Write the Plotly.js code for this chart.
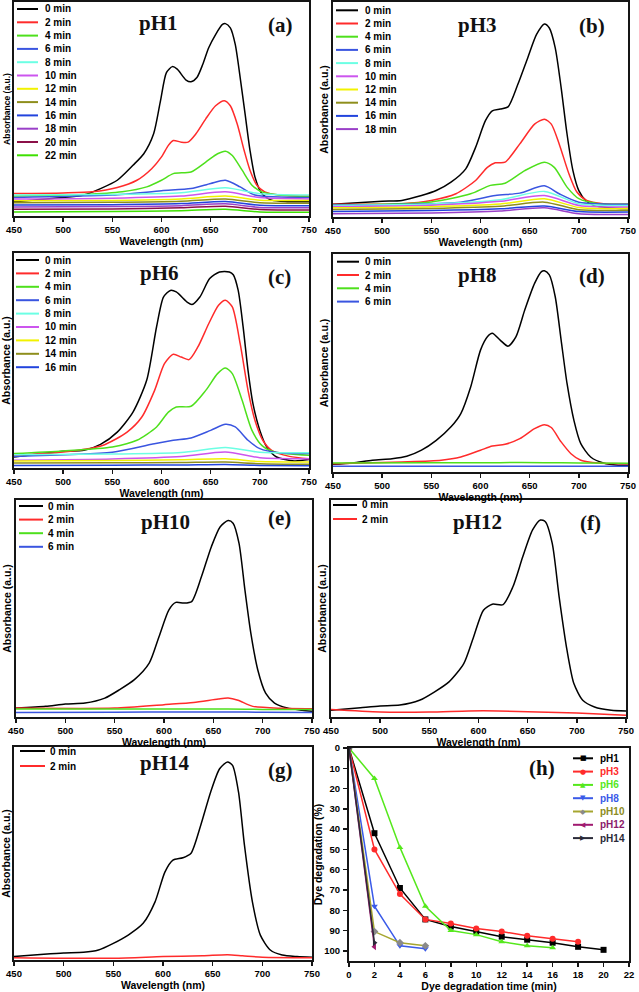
<!DOCTYPE html>
<html><head><meta charset="utf-8">
<script src="https://cdn.plot.ly/plotly-3.0.1.min.js"></script>
<style>html,body{margin:0;padding:0;background:#fff}#chart{width:639px;height:992px}</style>
</head><body><div id="chart"></div>
<script>
// ---------------- DATA ----------------
const LOW_WL = [450, 550, 620, 665, 700, 750];

// (a) pH1
const A_TIMES = [0,2,4,6,8,10,12,14,16,18,20,22];
const A0_WL = [450,500,521,538,555,571,582,592,599,605,611,616,625,630,636,642,648,655,662,665,670,675,680,685,690,695,702,712,728,750];
const A0 = [6.7,8.7,9.8,12.8,16.7,23.7,29.1,38.4,53.9,67,69.8,68.6,63.5,62.7,64.7,70.9,78.6,84.8,89.5,89.9,87.9,80.2,64.7,47.7,30.7,18.3,10.5,7.4,6.7,6.7];
const A2_WL = [450,500,530,555,575,590,600,607,612,620,627,635,645,655,664,670,677,684,690,697,705,720,750];
const A2 = [10.5,10.8,11.3,13.3,16.7,22.1,27.6,33,35.3,34.5,34.5,38.4,45.4,51.5,53.9,51.5,43,30.7,21.4,14.4,11.3,9.8,9.3];
const A4_WL = [450,520,560,585,600,612,630,645,657,665,672,682,692,702,720,750];
const A4 = [9.3,10,11.3,13.6,16.7,19.8,20.6,25.2,29.1,30.3,28.3,21.4,14.4,11.3,9.8,9];
const A6_WL = [450,550,600,630,650,665,680,695,750];
const A6 = [8.7,9.8,11.8,12.8,15.2,16.7,13.6,9.8,8.7];
const A8 = [9.8,10.1,10.9,13.2,10.4,9.8];
const A10 = [7.9,8.3,9.3,11.3,8.6,8];
const A12 = [7.1,7.3,8,9.3,7.4,7.3];
const A14 = [6.2,6.4,6.9,7.9,6.2,6];
const A16 = [5.1,5.3,5.8,6.8,5,4.8];
const A18 = [4.2,4.4,4.8,5.7,4,3.9];
const A20 = [3.1,3.3,3.8,4.6,3,2.8];
const A22 = [1.9,2.1,2.5,3.1,1.9,1.7];

// (b) pH3
const B_TIMES = [0,2,4,6,8,10,12,14,16,18];
const B0_WL = [450,500,520,540,555,570,585,595,605,612,620,628,638,648,657,665,670,676,682,688,694,700,707,715,730,750];
const B0 = [5.9,7.3,7.7,10,12.3,16.2,22.4,32.4,44.8,49.4,50.2,51.2,61.7,74,84.9,89.8,87.9,78.7,60.2,38.6,21.6,12.3,7.7,5.4,4.3,3.9];
const B2_WL = [450,520,550,575,595,607,615,625,640,655,665,672,680,690,698,708,725,750];
const B2 = [5.9,6.2,7.7,10.8,17,23.1,25.2,25.5,34,43.2,45.5,43.2,34,20,11.6,7.7,6.2,5.9];
const B4_WL = [450,550,590,610,625,645,665,675,688,700,720,750];
const B4 = [5.6,7,10.8,14.7,15.7,21.6,25.5,23.1,13.9,8.5,6.2,5.9];
const B6_WL = [450,580,615,640,665,680,700,750];
const B6 = [5.6,6.9,10,11.1,14.5,10.8,6.9,5.9];
const B8 = [5.4,6,8,11.9,6.2,5.4];
const B10 = [4.9,5.5,7.3,10,5.4,4.6];
const B12 = [4.3,4.8,6,8.5,4.4,3.9];
const B14 = [3.5,4,5,6.9,3.4,3.1];
const B16 = [2.6,3,3.8,5.1,2.5,2.3];
const B18 = [1.5,1.9,2.8,4.3,1.5,1.2];

// (c) pH6
const C_TIMES = [0,2,4,6,8,10,12,14,16];
const C0_WL = [450,500,521,538,555,571,585,595,602,609,615,626,631,639,649,659,669,673,678,683,688,693,700,707,717,735,750];
const C0 = [5.1,7.8,8.2,11,16.7,26,40.9,65.7,79.5,82.6,81.9,77.2,76,79.5,88.1,91.2,91.2,89.9,82.6,65.6,45.4,29.9,17.5,9.8,5.1,3.3,3.9];
const C2_WL = [450,500,540,565,580,593,603,612,620,628,637,648,658,665,672,680,688,695,703,712,730,750];
const C2 = [5.9,7.4,10.5,16.7,23.7,36.1,48.5,52.9,51.6,50.4,56.3,67.1,75.7,78,74.9,57.8,36.1,22.2,12.9,8.2,5.4,4.3];
const C4_WL = [450,500,550,575,595,607,615,630,645,657,665,672,682,692,702,715,750];
const C4 = [6.7,7.9,9.8,12.9,19.1,26,28.4,28.7,36.1,43.9,46.5,43.9,31.5,17.5,10.5,7.4,5.9];
const C6_WL = [450,550,590,612,630,650,665,675,688,700,720,750];
const C6 = [5.4,7.3,11,12.9,14,17.5,20.3,19.1,12.9,9,7.1,6.7];
const C8 = [6.2,6.5,7.2,9.5,7.3,7.1];
const C10 = [3.6,4.2,5.3,7.4,4.8,4.3];
const C12 = [3.3,3.5,3.8,4.3,3,2.8];
const C14 = [2.3,2.4,2.6,2.8,2,1.7];
const C16 = [1.2,1.3,1.4,1.6,1.2,1.1];

// (d) pH8
const D_TIMES = [0,2,4,6];
const D0_WL = [450,470,490,510,525,540,555,570,580,590,600,607,612,620,628,636,645,655,662,665,670,676,682,688,695,702,712,725,740,750];
const D0 = [3.5,4.1,5.4,6.1,7.2,10,14.5,20.7,26.8,39,55.9,62,63.6,60.5,57.7,62,74.3,86.5,91.9,92.3,90.4,80.4,60.5,40.6,23.7,13,6.9,4.1,3.1,3.1];
const D2_WL = [450,520,560,580,600,612,625,640,655,665,672,682,692,702,720,750];
const D2 = [3.8,4.6,5.4,6.9,10,11.9,12.7,15.3,19.9,21.7,20.4,13.8,8.4,5.4,4.1,3.8];
const D4 = [4.1,4.2,4.3,4.3,4.1,4];
const D6 = [2.6,2.6,2.6,2.6,2.6,2.6];

// (e) pH10
const E_TIMES = [0,2,4,6];
const E0_WL = [450,480,500,520,540,555,570,585,595,605,612,620,628,638,648,657,665,670,676,682,688,695,703,712,725,740,750];
const E0 = [4.1,4.9,6,6.4,8.7,12.6,17.2,24.8,37.1,49.4,52.8,52.5,53.2,64.7,78.5,87.7,90.5,89.3,80.1,58.6,38.7,21.8,11,6.4,4.1,3.1,2.6];
const E2_WL = [450,550,600,630,655,665,675,690,720,750];
const E2 = [4.1,4.1,5.7,6.7,8.3,8.7,7.7,4.9,4,3.8];
const E4 = [3.7,3.7,3.7,3.7,3.5,3.4];
const E6 = [2.1,2.2,2.3,2.3,2.2,2.1];

// (f) pH12
const F_TIMES = [0,2];
const F0_WL = [450,480,500,520,540,555,570,585,595,605,614,625,635,645,655,663,668,675,682,690,697,706,718,735,750];
const F0 = [3.1,4.3,5.1,5.5,7.7,11.5,16.2,24.6,36.9,49.2,52,51.8,60,73.8,86.2,90.8,90,80,55.4,30.8,15.4,7.7,4.6,3.1,2.8];
const F2_WL = [450,500,550,590,620,660,700,750];
const F2 = [3.4,2.3,2.3,2.8,2.8,2.3,1.8,0.8];

// (g) pH14
const G_TIMES = [0,2];
const G0_WL = [450,480,500,520,535,550,565,580,592,602,610,620,628,638,648,657,665,670,676,682,690,698,708,720,735,750];
const G0 = [1.6,2.7,3.3,3.6,4.7,7.8,11.7,17.2,27.3,41.4,46.9,48,50,63.3,78.9,89.8,93,91.4,78.9,53.9,27.3,11.7,4.7,2.3,1.6,1.3];
const G2_WL = [450,550,600,640,665,680,700,750];
const G2 = [1.1,0.8,1.6,2,2.5,2,1.3,1.1];

// (h) degradation
const H_NAMES = ['pH1','pH3','pH6','pH8','pH10','pH12','pH14'];
const T_PH1 = [0,2,4,6,8,10,12,14,16,18,20];
const DEG_PH1 = [0,42,69,84.5,88,90.5,93,94.5,96,98,99.5];
const T_PH3 = [0,2,4,6,8,10,12,14,16,18];
const DEG_PH3 = [0,50,72,84.5,86.5,89,90.5,92.5,94,95.5];
const T_PH6 = [0,2,4,6,8,10,12,14,16];
const DEG_PH6 = [0,15,49,78,90,92,95.5,97.5,98.5];
const T_PH8 = [0,2,4,6];
const DEG_PH8 = [0,78,97.5,99];
const T_PH10 = [0,2,4,6];
const DEG_PH10 = [0,90.5,96,97.5];
const T_PH12 = [0,2];
const DEG_PH12 = [0,98];
const T_PH14 = [0,2];
const DEG_PH14 = [0,96];

const WL_TICKS = [450,500,550,600,650,700,750];
const DEG_TICKS = [0,10,20,30,40,50,60,70,80,90,100];
const TIME_TICKS = [0,2,4,6,8,10,12,14,16,18,20,22];

// ---------------- STYLE / LAYOUT ----------------
const W = 639, H = 992;
const px = v => v / W;
const py = v => 1 - v / H;
const SANS = 'Liberation Sans, Arial, sans-serif';
const SERIF = 'Liberation Serif, Times New Roman, serif';
const TIME_COLOR = {0:'#000000',2:'#ff2b2b',4:'#4ee01c',6:'#3a55e0',8:'#6cffe4',10:'#cc55ee',12:'#f2f200',14:'#8e8e1c',16:'#2244dd',18:'#9a40c8',20:'#8b1048',22:'#3ee000'};

const PANELS = [
  {ph:'pH1', tag:'(a)', times:A_TIMES, curves:[[A0_WL,A0],[A2_WL,A2],[A4_WL,A4],[A6_WL,A6],[LOW_WL,A8],[LOW_WL,A10],[LOW_WL,A12],[LOW_WL,A14],[LOW_WL,A16],[LOW_WL,A18],[LOW_WL,A20],[LOW_WL,A22]],
   box:[14,309,2,216], leg:[17,38,43,9,13.3], phAt:[158,23], tagAt:[280,25], yts:8.5},
  {ph:'pH3', tag:'(b)', times:B_TIMES, curves:[[B0_WL,B0],[B2_WL,B2],[B4_WL,B4],[B6_WL,B6],[LOW_WL,B8],[LOW_WL,B10],[LOW_WL,B12],[LOW_WL,B14],[LOW_WL,B16],[LOW_WL,B18]],
   box:[333,628,2,217], leg:[336,358,363,10.3,13.2], phAt:[477,25], tagAt:[592,26], yts:10.5},
  {ph:'pH6', tag:'(c)', times:C_TIMES, curves:[[C0_WL,C0],[C2_WL,C2],[C4_WL,C4],[C6_WL,C6],[LOW_WL,C8],[LOW_WL,C10],[LOW_WL,C12],[LOW_WL,C14],[LOW_WL,C16]],
   box:[14,309,253,468], leg:[16,39,43,260,13.4], phAt:[159,273], tagAt:[279,277], yts:10.5},
  {ph:'pH8', tag:'(d)', times:D_TIMES, curves:[[D0_WL,D0],[D2_WL,D2],[LOW_WL,D4],[LOW_WL,D6]],
   box:[333,628,254,472], leg:[337,359,363,261.7,13.3], phAt:[477,275], tagAt:[592,276], yts:10.5},
  {ph:'pH10', tag:'(e)', times:E_TIMES, curves:[[E0_WL,E0],[E2_WL,E2],[LOW_WL,E4],[LOW_WL,E6]],
   box:[16,312,500,717], leg:[19,43,46,506,13.6], phAt:[165,522], tagAt:[279,518], yts:10.5},
  {ph:'pH12', tag:'(f)', times:F_TIMES, curves:[[F0_WL,F0],[F2_WL,F2]],
   box:[331,626,500,717], leg:[333,357,360,505,14], phAt:[477,522], tagAt:[590,523], yts:10.5},
  {ph:'pH14', tag:'(g)', times:G_TIMES, curves:[[G0_WL,G0],[G2_WL,G2]],
   box:[14,312,747,960], leg:[20,45,48,751,15], phAt:[165,763], tagAt:[280,770], yts:10.5}
];

const traces = [];
const shapes = [];
const annotations = [];
const layout = {
  width: W, height: H, margin:{l:0,r:0,t:0,b:0},
  paper_bgcolor:'#ffffff', plot_bgcolor:'#ffffff', showlegend:false,
  font:{family:SANS, color:'#000'}
};

function frameAxis(extra){
  return Object.assign({
    showline:true, mirror:true, linecolor:'#151515', linewidth:2,
    showgrid:false, zeroline:false, fixedrange:true
  }, extra);
}

function addLegendRow(x0, x1, xt, y, color, text, textColor, glyph){
  shapes.push({type:'line', xref:'paper', yref:'paper', x0:px(x0), x1:px(x1), y0:py(y), y1:py(y),
    line:{color:color, width:2}});
  if(glyph){
    annotations.push({xref:'paper', yref:'paper', x:px((x0+x1)/2), y:py(y), xanchor:'center', yanchor:'middle',
      text:glyph.g, showarrow:false, font:{family:'DejaVu Sans', size:7, color:glyph.c}});
  }
  annotations.push({xref:'paper', yref:'paper', x:px(xt), y:py(y), xanchor:'left', yanchor:'middle',
    text:text, showarrow:false, font:{family:SANS, size:10, weight:'bold', color:textColor}});
}

PANELS.forEach((p, i) => {
  const n = i + 1;
  const xa = 'xaxis' + (n === 1 ? '' : n), ya = 'yaxis' + (n === 1 ? '' : n);
  const xr = 'x' + (n === 1 ? '' : n), yr = 'y' + (n === 1 ? '' : n);
  const [l, r, t, b] = p.box;
  layout[xa] = frameAxis({
    domain:[px(l), px(r)], anchor:yr, range:[450,750], tickvals:WL_TICKS,
    ticks:'outside', ticklen:4, tickwidth:1.5, tickcolor:'#151515', ticklabelstandoff:0,
    tickfont:{family:SANS, size:9.5, weight:'bold'},
    title:{text:'Wavelength (nm)', standoff:0, font:{family:SANS, size:10.5, weight:'bold'}}
  });
  layout[ya] = frameAxis({
    domain:[py(b), py(t)], anchor:xr, range:[0,100], showticklabels:false, ticks:'',
    title:{text:'Absorbance (a.u.)', standoff:0, font:{family:SANS, size:p.yts, weight:'bold'}}
  });
  p.curves.forEach((c, k) => {
    const tm = p.times[k];
    traces.push({type:'scatter', mode:'lines', x:c[0], y:c[1], xaxis:xr, yaxis:yr,
      name:p.ph + ' ' + tm + ' min', hoverinfo:'x+y+name',
      line:{color:TIME_COLOR[tm], width:1.5, shape:'spline', smoothing:0.7}});
  });
  const [lx0, lx1, lxt, ly0, ldy] = p.leg;
  p.times.forEach((tm, k) => {
    addLegendRow(lx0, lx1, lxt, ly0 + k * ldy, TIME_COLOR[tm], tm + ' min', '#000', null);
  });
  annotations.push({xref:'paper', yref:'paper', x:px(p.phAt[0]), y:py(p.phAt[1]), xanchor:'center', yanchor:'middle',
    text:p.ph, showarrow:false, font:{family:SERIF, size:21, weight:'bold', color:'#111'}});
  annotations.push({xref:'paper', yref:'paper', x:px(p.tagAt[0]), y:py(p.tagAt[1]), xanchor:'center', yanchor:'middle',
    text:p.tag, showarrow:false, font:{family:SERIF, size:21, weight:'bold', color:'#111'}});
});

// (h) panel
const H_SERIES = [
  {t:T_PH1, d:DEG_PH1, line:'#000000', mk:'#000000', txt:'#000000', sym:'square', g:'■'},
  {t:T_PH3, d:DEG_PH3, line:'#ff2b2b', mk:'#ff2b2b', txt:'#ff2b2b', sym:'circle', g:'●'},
  {t:T_PH6, d:DEG_PH6, line:'#55e81c', mk:'#55e81c', txt:'#55e81c', sym:'triangle-up', g:'▲'},
  {t:T_PH8, d:DEG_PH8, line:'#3a5ae8', mk:'#3a5ae8', txt:'#3a5ae8', sym:'triangle-down', g:'▼'},
  {t:T_PH10, d:DEG_PH10, line:'#a6a630', mk:'#8a8a8a', txt:'#8c8c22', sym:'diamond', g:'◆'},
  {t:T_PH12, d:DEG_PH12, line:'#a01a70', mk:'#a01a70', txt:'#8b1a6b', sym:'triangle-left', g:'◀'},
  {t:T_PH14, d:DEG_PH14, line:'#2a2a38', mk:'#2a2a38', txt:'#2a2a38', sym:'triangle-right', g:'▶'}
];
layout.xaxis8 = frameAxis({
  domain:[px(349), px(629)], anchor:'y8', range:[0,22], tickvals:TIME_TICKS,
  ticks:'outside', ticklen:4, tickwidth:1.5, tickcolor:'#151515', ticklabelstandoff:0,
  tickfont:{family:SANS, size:9.5, weight:'bold'},
  title:{text:'Dye degradation time (min)', standoff:0, font:{family:SANS, size:10.5, weight:'bold'}}
});
layout.yaxis8 = frameAxis({
  domain:[py(961), py(748)], anchor:'x8', range:[105,0], tickvals:DEG_TICKS,
  ticks:'outside', ticklen:4, tickwidth:1.5, tickcolor:'#151515', ticklabelstandoff:1,
  tickfont:{family:SANS, size:9.5, weight:'bold'},
  title:{text:'Dye degradation (%)', standoff:0, font:{family:SANS, size:10.5, weight:'bold'}}
});
H_SERIES.forEach((s, k) => {
  traces.push({type:'scatter', mode:'lines+markers', x:s.t, y:s.d, xaxis:'x8', yaxis:'y8',
    name:H_NAMES[k], line:{color:s.line, width:1.5},
    marker:{symbol:s.sym, size:6, color:s.mk, line:{width:0}}});
  addLegendRow(573, 593, 598, 758.3 + k * 13.3, s.line, H_NAMES[k], s.txt, {c:s.mk, g:s.g});
});
annotations.push({xref:'paper', yref:'paper', x:px(542), y:py(768), xanchor:'center', yanchor:'middle',
  text:'(h)', showarrow:false, font:{family:SERIF, size:21, weight:'bold', color:'#111'}});

layout.shapes = shapes;
layout.annotations = annotations;
Plotly.newPlot('chart', traces, layout, {displayModeBar:false, staticPlot:true});
</script></body></html>
